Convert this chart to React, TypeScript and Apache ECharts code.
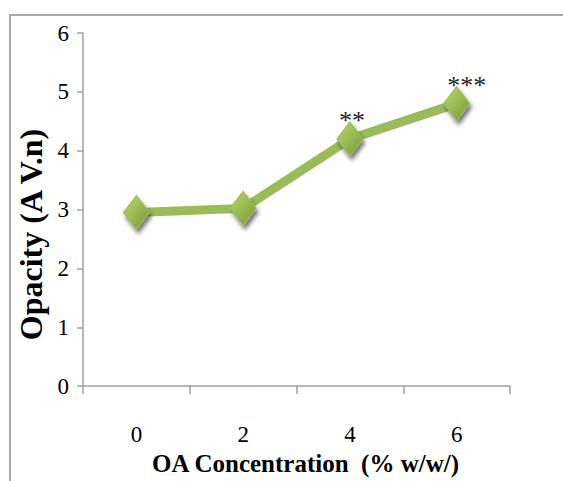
import React, { useEffect, useRef } from "react";
import * as echarts from "echarts";

const categories = ["0", "2", "4", "6"];
const opacityValues = [2.95, 3.02, 4.2, 4.8];
const significance = ["", "", "**", "***"];
const yTicks = { min: 0, max: 6, interval: 1 };

const FONT = "Liberation Serif";

export default function App() {
  const ref = useRef<HTMLDivElement>(null);
  useEffect(() => {
    if (!ref.current) return;
    const chart = echarts.init(ref.current, undefined, { renderer: "svg" });
    const labelOffsets = [
      [0, 0],
      [0, 0],
      [2, 12],
      [10, 12],
    ];
    chart.setOption({
      animation: false,
      backgroundColor: "#ffffff",
      graphic: [
        {
          type: "rect",
          shape: { x: 10, y: 15, width: 700, height: 700 },
          style: { fill: "none", stroke: "#a8a8a8", lineWidth: 2 },
          silent: true,
        },
      ],
      grid: { left: 83, right: 53, top: 33, bottom: 94 },
      xAxis: {
        type: "category",
        data: categories,
        boundaryGap: true,
        name: "OA Concentration  (% w/w/)",
        nameLocation: "middle",
        nameGap: 60,
        nameTextStyle: {
          fontFamily: FONT,
          fontWeight: "bold",
          fontSize: 25,
          color: "#000",
          padding: [0, 0, 0, 18],
        },
        axisLine: { show: true, lineStyle: { color: "#a0a0a0", width: 1.5 } },
        axisTick: { show: true, length: 8, alignWithLabel: false, lineStyle: { color: "#a0a0a0", width: 1.5 } },
        axisLabel: { fontFamily: FONT, fontSize: 23, color: "#000", margin: 37 },
        splitLine: { show: false },
      },
      yAxis: {
        type: "value",
        min: yTicks.min,
        max: yTicks.max,
        interval: yTicks.interval,
        name: "Opacity (A V.n)",
        nameLocation: "middle",
        nameRotate: 90,
        nameGap: 35,
        nameTextStyle: {
          fontFamily: FONT,
          fontWeight: "bold",
          fontSize: 32,
          color: "#000",
          padding: [0, 50, 0, 0],
        },
        axisLine: { show: true, lineStyle: { color: "#a0a0a0", width: 1.5 } },
        axisTick: { show: true, length: 6, lineStyle: { color: "#a0a0a0", width: 1.5 } },
        axisLabel: { fontFamily: FONT, fontSize: 23, color: "#000", margin: 14 },
        splitLine: { show: false },
      },
      series: [
        {
          type: "line",
          data: opacityValues.map((v, i) => ({
            value: v,
            label: {
              show: significance[i] !== "",
              formatter: significance[i],
              position: "top",
              distance: 0,
              offset: labelOffsets[i],
              fontFamily: FONT,
              fontSize: 26,
              color: "#222",
            },
          })),
          lineStyle: { color: "#9BBB59", width: 9 },
          symbol: "diamond",
          symbolSize: [26, 34],
          itemStyle: {
            color: new echarts.graphic.LinearGradient(0, 0, 1, 1, [
              { offset: 0, color: "#b9d86e" },
              { offset: 0.5, color: "#98ba50" },
              { offset: 1, color: "#769634" },
            ]),
            borderColor: "#9bbb59",
            borderWidth: 1,
            shadowColor: "rgba(0,0,0,0.55)",
            shadowBlur: 4,
            shadowOffsetX: 2,
            shadowOffsetY: 4,
          },
          z: 3,
        },
      ],
    });
    return () => chart.dispose();
  }, []);
  return (
    <div
      ref={ref}
      style={{ position: "absolute", left: 0, top: 0, width: 563, height: 481 }}
    />
  );
}
